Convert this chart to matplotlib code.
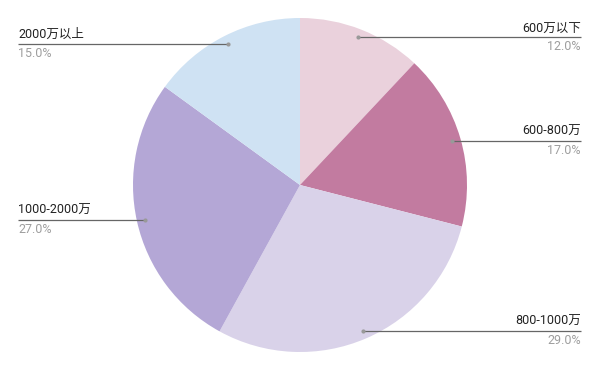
import numpy as np
import matplotlib
matplotlib.use("Agg")
import matplotlib.pyplot as plt

plt.rcParams['font.family'] = ['Roboto', 'Noto Sans CJK SC', 'DejaVu Sans']

categories = ["600万以下", "600-800万", "800-1000万", "1000-2000万", "2000万以上"]
values = [12.0, 17.0, 29.0, 27.0, 15.0]
colors = ["#ead1dc", "#c27ba0", "#d9d2e9", "#b4a7d6", "#cfe2f3"]

W, H = 600, 371
fig = plt.figure(figsize=(6, 3.71), dpi=100)
ax = fig.add_axes([0, 0, 1, 1])

cx, cy, R = 300, H - 185, 167
wedges, _ = ax.pie(values, colors=colors, startangle=90, counterclock=False,
                   center=(cx, cy), radius=R, frame=True,
                   wedgeprops=dict(linewidth=0))
ax.set_xlim(0, W)
ax.set_ylim(0, H)
ax.set_aspect('equal')
ax.axis('off')

total = sum(values)
for w, cat, v in zip(wedges, categories, values):
    ang = np.deg2rad((w.theta1 + w.theta2) / 2)
    px = cx + 0.95 * R * np.cos(ang)
    py = cy + 0.95 * R * np.sin(ang)
    right = np.cos(ang) > 0
    xe = 581 if right else 18
    ax.plot([px, xe], [py, py], color="#666666", lw=0.9, solid_capstyle='butt', zorder=3)
    ax.plot([px], [py], 'o', color="#999999", ms=3, mec='none', zorder=4)
    ha = 'right' if right else 'left'
    ax.text(xe, py + 3, cat, ha=ha, va='bottom', fontsize=9, color="#222222")
    ax.text(xe, py - 3, f"{v / total * 100:.1f}%", ha=ha, va='top', fontsize=9, color="#9e9e9e")

fig.savefig("out.png", dpi=100)
